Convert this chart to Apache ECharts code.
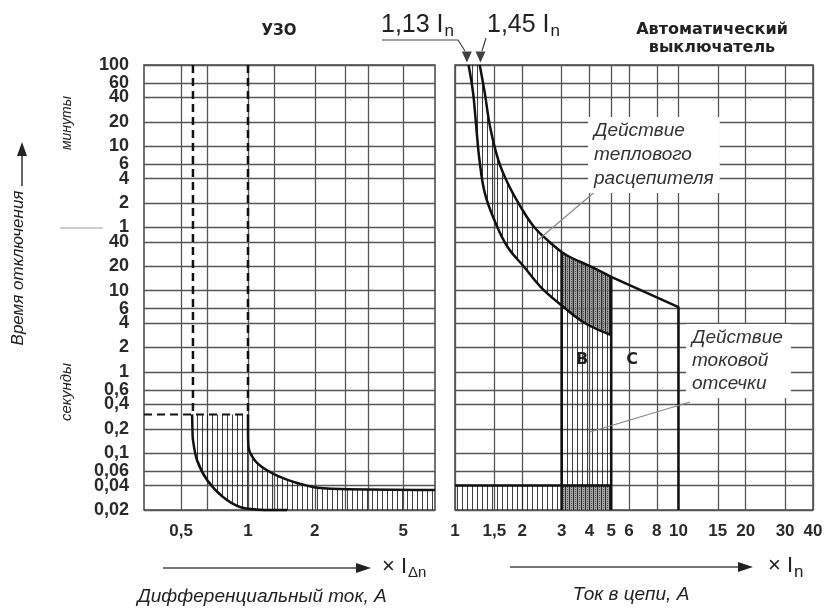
<!DOCTYPE html>
<html><head><meta charset="utf-8">
<script src="https://cdn.jsdelivr.net/npm/echarts@6/dist/echarts.min.js"></script>
<style>html,body{margin:0;padding:0;background:#fff}#c{width:830px;height:609px}</style>
</head><body><div id="c"></div>
<script>
// ---------- data ----------
// time axis (seconds); top part labelled in minutes, bottom in seconds
const timeTicks = [6000,3600,2400,1200,600,360,240,120,60,40,20,10,6,4,2,1,0.6,0.4,0.2,0.1,0.06,0.04,0.02];
const timeTickLabels = ['100','60','40','20','10','6','4','2','1','40','20','10','6','4','2','1','0,6','0,4','0,2','0,1','0,06','0,04','0,02'];
const timeRange = [0.02, 6000];

// RCD (УЗО) panel, x in multiples of IΔn
const rcdRange = [0.34, 6.96];
const rcdGridValues = [0.5, 0.654, 1, 1.32, 2, 2.73, 3.47, 5];
const rcdLabelValues = [0.5, 1, 2, 5];
const rcdLabelTexts = ['0,5', '1', '2', '5'];
const rcdTripMin = 0.565, rcdTripMax = 1, rcdMaxTime = 0.3;
const rcdMinX = [0.560, 0.562, 0.565, 0.589, 0.654, 0.772, 0.92, 1.13, 1.5];
const rcdMinY = [0.3, 0.2, 0.146, 0.0825, 0.0468, 0.0289, 0.0218, 0.0202, 0.02];
const rcdMaxX = [1, 1, 1.005, 1.098, 1.394, 1.96, 2.6, 6.96];
const rcdMaxY = [0.3, 0.2, 0.12, 0.076, 0.051, 0.0384, 0.0362, 0.0352];

// circuit breaker panel, x in multiples of In
const cbRange = [1, 40];
const cbGridValues = [1, 1.5, 2, 3, 4, 5, 6, 8, 10, 15, 20, 30, 40];
const cbLabelTexts = ['1', '1,5', '2', '3', '4', '5', '6', '8', '10', '15', '20', '30', '40'];
const thermalMinX = [1.15, 1.205, 1.245, 1.287, 1.359, 1.5, 1.72, 2.04, 2.42, 3, 3.81, 5];
const thermalMinY = [6000, 2712, 1036, 406, 160, 74, 34.5, 19.6, 11.1, 6.6, 4.0, 2.85];
const thermalMaxX = [1.29, 1.359, 1.436, 1.563, 1.72, 1.97, 2.26, 2.68, 3, 3.27, 4.08, 5];
const thermalMaxY = [6000, 2712, 1036, 406, 212, 107, 60.9, 38.7, 30, 26, 19.6, 14.8];
const curveCX = [5, 10, 10];
const curveCY = [14.8, 6.3, 0.02];
const zoneB = [3, 5];
const instTime = 0.04;
const markerX = [1.13, 1.3]; // arrows for 1,13 In and 1,45 In, as drawn

// ---------- helpers ----------
const zip = (xs, ys) => xs.map((x, i) => [x, ys[i]]);
function pattern(w, h, draw) {
  const c = document.createElement('canvas'); c.width = w; c.height = h;
  draw(c.getContext('2d')); return { image: c, repeat: 'repeat' };
}
const vHatch = pattern(5, 5, g => { g.fillStyle = 'rgba(30,30,30,0.85)'; g.fillRect(2, 0, 1, 5); });
const xHatch = pattern(4, 4, g => {
  g.fillStyle = 'rgba(140,140,140,0.8)'; g.fillRect(0, 0, 4, 4);
  g.fillStyle = 'rgba(30,30,30,0.9)'; g.fillRect(1, 0, 1, 4);
  g.fillStyle = 'rgba(60,60,60,0.8)'; g.fillRect(3, 1, 1, 1); g.fillRect(3, 3, 1, 1);
});
function labelFor(values, texts) {
  return v => { for (let i = 0; i < values.length; i++) if (Math.abs(v - values[i]) / values[i] < 1e-6) return texts[i]; return ''; };
}
function poly(gi, pts, fill) {
  return { type: 'custom', xAxisIndex: gi, yAxisIndex: gi, silent: true, z: 1, data: [pts[0]],
    renderItem: (p, api) => ({ type: 'polygon', shape: { points: pts.map(q => api.coord(q)) }, style: { fill: fill, stroke: null } }) };
}
function line(gi, pts, opt) {
  opt = opt || {};
  return { type: 'line', xAxisIndex: gi, yAxisIndex: gi, data: pts, symbol: 'none', silent: true, z: 3,
    smooth: opt.smooth || false, clip: false,
    lineStyle: { color: '#111', width: opt.width || 2.5, type: opt.dash || 'solid' } };
}

// polygons
const rcdBand = zip(rcdMinX, rcdMinY).concat([[rcdRange[1], 0.02]], zip(rcdMaxX, rcdMaxY).reverse());
const thermalBand = zip(thermalMinX, thermalMinY).concat(zip(thermalMaxX, thermalMaxY).reverse());
const minFromB = zip(thermalMinX, thermalMinY).filter(p => p[0] >= zoneB[0]);
const maxFromB = zip(thermalMaxX, thermalMaxY).filter(p => p[0] >= zoneB[0]);
const crossBand = minFromB.concat(maxFromB.slice().reverse());
const bZone = minFromB.concat([[zoneB[1], instTime], [zoneB[0], instTime]]);
const inst1 = [[cbRange[0], timeRange[0]], [zoneB[0], timeRange[0]], [zoneB[0], instTime], [cbRange[0], instTime]];
const inst2 = [[zoneB[0], timeRange[0]], [zoneB[1], timeRange[0]], [zoneB[1], instTime], [zoneB[0], instTime]];

const FONT = 'Liberation Sans';
const gridLine = { show: true, lineStyle: { color: '#555', width: 1.3 } };
function xAxis(gi, range, gridVals, labVals, labTexts) {
  return { type: 'log', logBase: 10, gridIndex: gi, min: range[0], max: range[1],
    axisLine: { show: false }, axisTick: { show: false, customValues: gridVals },
    axisLabel: { customValues: labVals, formatter: labelFor(labVals, labTexts), margin: 13,
      fontSize: 17, fontWeight: 'bold', color: '#2a2a2a', fontFamily: FONT },
    splitLine: gridLine };
}
function yAxis(gi, showLabels) {
  return { type: 'log', logBase: 10, gridIndex: gi, min: timeRange[0], max: timeRange[1],
    axisLine: { show: false }, axisTick: { show: false, customValues: timeTicks },
    axisLabel: { show: showLabels, customValues: timeTicks, formatter: labelFor(timeTicks, timeTickLabels),
      margin: 15, fontSize: 18, fontWeight: 'bold', color: '#2a2a2a', fontFamily: FONT, lineHeight: 14 },
    splitLine: gridLine };
}

const chart = echarts.init(document.getElementById('c'), null, { renderer: 'canvas' });

const txt = (x, y, text, o) => Object.assign({ type: 'text', x, y, z: 100,
  style: Object.assign({ text, fill: '#222', font: '15px ' + FONT, textAlign: 'center', textVerticalAlign: 'middle' }, (o && o.style) || {}) },
  o && o.rotation !== undefined ? { rotation: o.rotation } : {});
const seg = (x1, y1, x2, y2, c, w) => ({ type: 'line', z: 100, shape: { x1, y1, x2, y2 }, style: { stroke: c || '#222', lineWidth: w || 1.2 } });
const tri = (pts) => ({ type: 'polygon', z: 100, shape: { points: pts }, style: { fill: '#222' } });
const sub = (x, y, main, small, big, little) => ({ type: 'text', x, y, z: 100, style: { text: '{a|' + main + '}{b|' + small + '}', textVerticalAlign: 'middle',
  rich: { a: { font: big + 'px ' + FONT, fill: '#222' }, b: { font: little + 'px ' + FONT, fill: '#222', padding: [Math.round(little * 0.7), 0, 0, 1] } } } });

chart.setOption({
  animation: false,
  backgroundColor: '#fff',
  grid: [
    { left: 144, top: 65, width: 291, height: 445, show: true, borderColor: '#444', borderWidth: 1.5, backgroundColor: 'transparent' },
    { left: 455, top: 65, width: 358, height: 445, show: true, borderColor: '#444', borderWidth: 1.5, backgroundColor: 'transparent' }
  ],
  xAxis: [
    xAxis(0, rcdRange, rcdGridValues, rcdLabelValues, rcdLabelTexts),
    xAxis(1, cbRange, cbGridValues, cbGridValues, cbLabelTexts)
  ],
  yAxis: [yAxis(0, true), yAxis(1, false)],
  series: [
    poly(0, rcdBand, vHatch),
    poly(1, thermalBand, vHatch),
    poly(1, bZone, vHatch),
    poly(1, inst1, vHatch),
    poly(1, crossBand, xHatch),
    poly(1, inst2, xHatch),
    // RCD
    line(0, zip(rcdMinX, rcdMinY), { smooth: 0.3 }),
    line(0, zip(rcdMaxX, rcdMaxY), { smooth: 0.3 }),
    line(0, [[rcdTripMin, timeRange[1]], [rcdTripMin, rcdMaxTime]], { dash: [8, 5] }),
    line(0, [[rcdTripMax, timeRange[1]], [rcdTripMax, rcdMaxTime]], { dash: [8, 5] }),
    line(0, [[rcdRange[0], rcdMaxTime], [rcdTripMax, rcdMaxTime]], { dash: [8, 5], width: 2 }),
    // breaker
    line(1, zip(thermalMinX, thermalMinY), { smooth: 0.4 }),
    line(1, zip(thermalMaxX, thermalMaxY), { smooth: 0.4 }),
    line(1, zip(curveCX, curveCY)),
    line(1, [[zoneB[0], thermalMaxY[thermalMaxX.indexOf(zoneB[0])]], [zoneB[0], timeRange[0]]]),
    line(1, [[zoneB[1], curveCY[0]], [zoneB[1], timeRange[0]]]),
    line(1, [[cbRange[0], instTime], [zoneB[1], instTime]]),
    { type: 'scatter', xAxisIndex: 1, yAxisIndex: 1, clip: false, silent: true, z: 5,
      data: markerX.map(x => [x, timeRange[1]]), symbol: 'triangle', symbolRotate: 180,
      symbolSize: [10, 11], symbolOffset: [0, -8], itemStyle: { color: '#111' } }
  ],
  graphic: [
    // titles
    txt(279, 31, 'УЗО', { style: { font: 'bold 15px DejaVu Sans' } }),
    txt(712, 30, 'Автоматический', { style: { font: 'bold 16px DejaVu Sans' } }),
    txt(712, 48, 'выключатель', { style: { font: 'bold 16px DejaVu Sans' } }),
    sub(381, 25, '1,13 I', 'n', 25, 17),
    sub(487, 25, '1,45 I', 'n', 25, 17),
    { type: 'polyline', z: 100, shape: { points: [[382, 40], [458, 40], [465, 51]] }, style: { stroke: '#444', lineWidth: 1.2, fill: null } },
    seg(486, 38, 482, 51, '#444', 1.2),
    // y-axis title
    txt(18, 268, 'Время отключения', { rotation: Math.PI / 2, style: { font: 'italic 17px ' + FONT } }),
    seg(22, 186, 22, 152, '#222', 1.4),
    tri([[17, 156], [27, 156], [22, 142]]),
    txt(67, 123, 'минуты', { rotation: Math.PI / 2, style: { font: 'italic 14px ' + FONT } }),
    txt(67, 392, 'секунды', { rotation: Math.PI / 2, style: { font: 'italic 15px ' + FONT } }),
    seg(60, 228, 103, 228, '#999', 1.2),
    // x-axis arrows
    seg(163, 568, 358, 568, '#444', 1.3),
    tri([[356, 563], [356, 573], [371, 568]]),
    sub(382, 567, '× I', 'Δn', 22, 15),
    seg(510, 567, 740, 567, '#444', 1.3),
    tri([[738, 562], [738, 572], [753, 567]]),
    sub(768, 566, '× I', 'n', 22, 17),
    txt(262, 597, 'Дифференциальный ток, А', { style: { font: 'italic 19px ' + FONT } }),
    txt(631, 595, 'Ток в цепи, А', { style: { font: 'italic 19px ' + FONT } }),
    // annotations
    seg(597, 190, 538, 240, '#888', 1.2),
    { type: 'text', x: 588, y: 117, z: 100, style: { text: 'Действие\nтеплового\nрасцепителя', font: 'italic 19px ' + FONT, fill: '#333',
        lineHeight: 24, backgroundColor: '#fff', padding: [2, 6, 2, 6] } },
    seg(690, 402, 590, 432, '#888', 1.2),
    { type: 'text', x: 686, y: 324, z: 100, style: { text: 'Действие\nтоковой\nотсечки', font: 'italic 19px ' + FONT, fill: '#333',
        lineHeight: 23, backgroundColor: '#fff', padding: [2, 8, 3, 6] } },
    txt(582, 360, 'B', { style: { font: 'bold 16px DejaVu Sans' } }),
    txt(632, 360, 'C', { style: { font: 'bold 16px DejaVu Sans' } })
  ]
});
</script></body></html>
